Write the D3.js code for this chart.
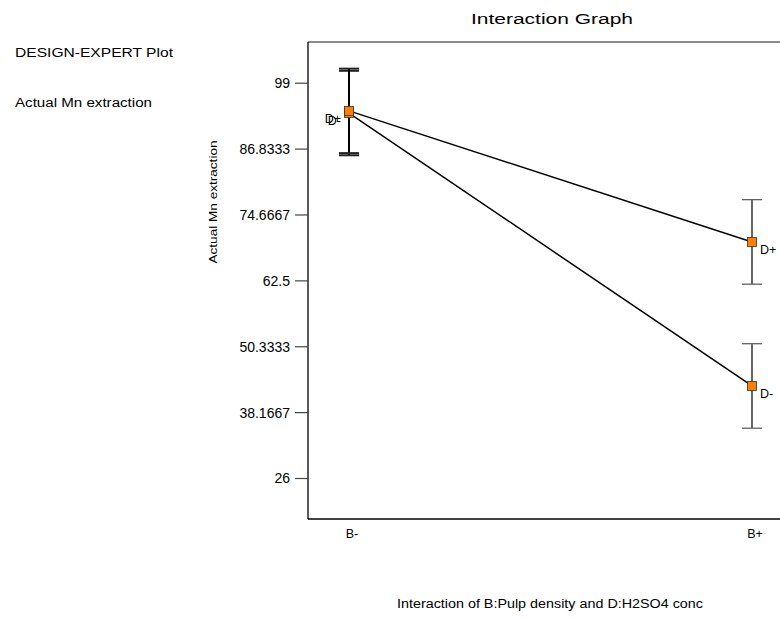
<!DOCTYPE html>
<html>
<head>
<meta charset="utf-8">
<script src="https://cdn.jsdelivr.net/npm/d3@7"></script>
<style>
body { margin: 0; background: #fff; }
text { font-family: "Liberation Sans", Arial, sans-serif; fill: #000; }
</style>
</head>
<body>
<svg id="chart"></svg>
<script>
// data
var levels = ["B-", "B+"];
var dMinus = [93.4, 43.0];
var dPlus = [93.8, 69.6];
var halfBar = [7.8, 7.8];
var yTicks = [26, 38.1667, 50.3333, 62.5, 74.6667, 86.8333, 99];

var size = { width: 780, height: 620 };
var frame = { left: 308, top: 42, right: 797, bottom: 519 };

var svg = d3.select("#chart")
  .attr("width", size.width)
  .attr("height", size.height);

var y = d3.scaleLinear().domain([18.43, 106.52]).range([frame.bottom, frame.top]);
var x = d3.scalePoint().domain(levels).range([349, 752]);

// frame
svg.append("line").attr("x1", frame.left).attr("x2", frame.right)
  .attr("y1", frame.top).attr("y2", frame.top)
  .attr("stroke", "#666").attr("stroke-width", 1.3);
svg.append("line").attr("x1", frame.left).attr("x2", frame.right)
  .attr("y1", frame.bottom).attr("y2", frame.bottom)
  .attr("stroke", "#000").attr("stroke-width", 1.3);

// y axis
var yAxis = d3.axisLeft(y).tickValues(yTicks).tickSize(13).tickPadding(5)
  .tickFormat(function(d){ return d3.format(".6~g")(d); });
var gy = svg.append("g").attr("transform", "translate(" + frame.left + ",0)").call(yAxis);
gy.select(".domain").attr("d", "M0," + frame.top + "V" + frame.bottom).attr("stroke", "#000").attr("stroke-width", 1.3);
gy.selectAll(".tick line").attr("stroke", "#444").attr("stroke-width", 1.2);
gy.selectAll(".tick text").style("font-size", "14px").attr("dy", "0.35em");

// x labels
svg.selectAll(".xl").data(levels).enter().append("text")
  .attr("x", function(d){ return x(d) + 3; })
  .attr("y", 538)
  .attr("text-anchor", "middle")
  .style("font-size", "12.5px")
  .text(function(d){ return d; });

// series
var series = [
  { name: "D-", vals: dMinus },
  { name: "D+", vals: dPlus }
];

var line = d3.line().x(function(d, i){ return x(levels[i]); }).y(function(d){ return y(d); });

series.forEach(function(s){
  // error bars
  s.vals.forEach(function(v, i){
    var cx = x(levels[i]);
    var w = i === 0 ? 2 : 1.2;
    svg.append("line").attr("x1", cx).attr("x2", cx)
      .attr("y1", y(v + halfBar[i])).attr("y2", y(v - halfBar[i]))
      .attr("stroke", "#000").attr("stroke-width", w);
    [v + halfBar[i], v - halfBar[i]].forEach(function(e){
      svg.append("line").attr("x1", cx - 10).attr("x2", cx + 10)
        .attr("y1", y(e)).attr("y2", y(e))
        .attr("stroke", i === 0 ? "#222" : "#555").attr("stroke-width", w);
    });
  });
});

series.forEach(function(s){
  svg.append("path").datum(s.vals).attr("d", line)
    .attr("fill", "none").attr("stroke", "#000").attr("stroke-width", 1.5);
});

series.forEach(function(s){
  svg.selectAll(null).data(s.vals).enter().append("rect")
    .attr("x", function(d, i){ return x(levels[i]) - 4.5; })
    .attr("y", function(d){ return y(d) - 4.5; })
    .attr("width", 9).attr("height", 9)
    .attr("fill", "#ff8000").attr("stroke", "#333").attr("stroke-width", 0.8);

  svg.selectAll(null).data(s.vals).enter().append("text")
    .attr("x", function(d, i){ return i === 0 ? x(levels[i]) - 8 : x(levels[i]) + 8; })
    .attr("y", function(d){ return y(d) + 12; })
    .attr("text-anchor", function(d, i){ return i === 0 ? "end" : "start"; })
    .style("font-size", "12.5px")
    .text(s.name);
});

// titles and notes
function label(txt, xx, yy, fs, len, anchor){
  return svg.append("text").attr("x", xx).attr("y", yy)
    .attr("text-anchor", anchor || "start")
    .style("font-size", fs + "px")
    .attr("textLength", len).attr("lengthAdjust", "spacingAndGlyphs")
    .text(txt);
}
label("Interaction Graph", 552, 24, 15.5, 162, "middle");
label("Interaction of B:Pulp density and D:H2SO4 conc", 550, 608, 12, 306, "middle");
label("DESIGN-EXPERT Plot", 15, 57, 12.5, 158);
label("Actual Mn extraction", 15, 107, 12.5, 137);
svg.append("text").attr("transform", "translate(217,202) rotate(-90)")
  .attr("text-anchor", "middle").style("font-size", "11.5px")
  .attr("textLength", 123).attr("lengthAdjust", "spacingAndGlyphs")
  .text("Actual Mn extraction");
</script>
</body>
</html>
